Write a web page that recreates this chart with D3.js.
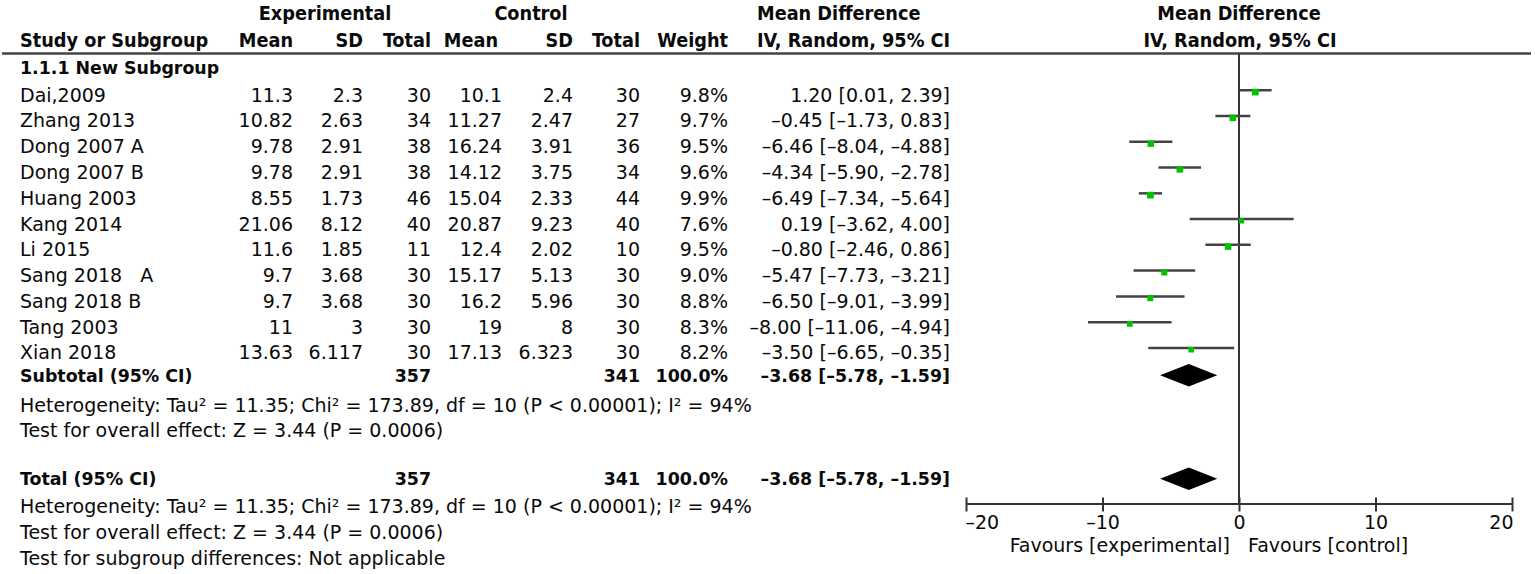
<!DOCTYPE html>
<html>
<head>
<meta charset="utf-8">
<script src="https://cdn.jsdelivr.net/npm/d3@7"></script>
<style>
html,body{margin:0;padding:0;background:#fff;}
svg{display:block;}
text{font-family:"DejaVu Sans",sans-serif;fill:#0a0a0a;}
.reg{font-size:19px;}
.hdr{font-family:"DejaVu Sans Condensed","DejaVu Sans",sans-serif;font-weight:bold;font-size:19.7px;}
.bold{font-weight:bold;font-size:17.4px;}
</style>
</head>
<body>
<svg id="c" width="1535" height="574"></svg>
<script>
// ---------- data ----------
const studies   = ["Dai,2009","Zhang 2013","Dong 2007 A","Dong 2007 B","Huang 2003","Kang 2014","Li 2015","Sang 2018   A","Sang 2018 B","Tang 2003","Xian 2018"];
const expMean   = [11.3,10.82,9.78,9.78,8.55,21.06,11.6,9.7,9.7,11,13.63];
const expSD     = [2.3,2.63,2.91,2.91,1.73,8.12,1.85,3.68,3.68,3,6.117];
const expTotal  = [30,34,38,38,46,40,11,30,30,30,30];
const ctlMean   = [10.1,11.27,16.24,14.12,15.04,20.87,12.4,15.17,16.2,19,17.13];
const ctlSD     = [2.4,2.47,3.91,3.75,2.33,9.23,2.02,5.13,5.96,8,6.323];
const ctlTotal  = [30,27,36,34,44,40,10,30,30,30,30];
const weight    = [9.8,9.7,9.5,9.6,9.9,7.6,9.5,9.0,8.8,8.3,8.2];
const md        = [1.20,-0.45,-6.46,-4.34,-6.49,0.19,-0.80,-5.47,-6.50,-8.00,-3.50];
const ciLo      = [0.01,-1.73,-8.04,-5.90,-7.34,-3.62,-2.46,-7.73,-9.01,-11.06,-6.65];
const ciHi      = [2.39,0.83,-4.88,-2.78,-5.64,4.00,0.86,-3.21,-3.99,-4.94,-0.35];
const pooled    = {md:-3.68, lo:-5.78, hi:-1.59, expN:357, ctlN:341, w:100.0};
const xTicks    = [-20,-10,0,10,20];
const hetText   = "Heterogeneity: Tau² = 11.35; Chi² = 173.89, df = 10 (P < 0.00001); I² = 94%";
const overallText = "Test for overall effect: Z = 3.44 (P = 0.0006)";
const subgroupText = "Test for subgroup differences: Not applicable";

// ---------- layout ----------
const svg = d3.select("#c");
const x = d3.scaleLinear().domain([-20,20]).range([966,1512]);
const row = d3.scaleLinear().domain([0,1]).range([101.7,127.46]); // text baseline per row index
const fmt2 = v => v.toFixed(2).replace("-","–");
const ci = (m,l,h) => `${fmt2(m)} [${fmt2(l)}, ${fmt2(h)}]`;
const col = {name:20, eMean:293, eSD:363, eTot:431, cMean:502, cSD:573, cTot:640, w:728, ci:950};

// headers
const hdr = svg.append("g");
const ht = (t,xx,yy,anchor) => hdr.append("text").attr("class","hdr").attr("x",xx).attr("y",yy).attr("text-anchor",anchor).text(t);
ht("Experimental",325,20,"middle");
ht("Control",531,20,"middle");
ht("Mean Difference",757,20,"start");
ht("Mean Difference",1239,20,"middle");
ht("Study or Subgroup",col.name,47,"start");
ht("Mean",col.eMean,47,"end");
ht("SD",col.eSD,47,"end");
ht("Total",col.eTot,47,"end");
ht("Mean",col.cMean-4,47,"end");
ht("SD",col.cSD,47,"end");
ht("Total",col.cTot,47,"end");
ht("Weight",col.w,47,"end");
ht("IV, Random, 95% CI",757,47,"start");
ht("IV, Random, 95% CI",1240,47,"middle");

svg.append("line").attr("x1",2).attr("x2",1531).attr("y1",53.5).attr("y2",53.5)
  .attr("stroke","#444").attr("stroke-width",2.5);

svg.append("text").attr("class","bold").attr("x",col.name).attr("y",73.5).text("1.1.1 New Subgroup");

// study rows
const g = svg.append("g").attr("class","reg");
studies.forEach((s,i)=>{
  const y = row(i);
  const t = (v,xx,anchor) => g.append("text").attr("x",xx).attr("y",y).attr("text-anchor",anchor).style("white-space","pre").text(v);
  t(s,col.name,"start");
  t(String(expMean[i]),col.eMean,"end");
  t(String(expSD[i]),col.eSD,"end");
  t(String(expTotal[i]),col.eTot,"end");
  t(String(ctlMean[i]),col.cMean,"end");
  t(String(ctlSD[i]),col.cSD,"end");
  t(String(ctlTotal[i]),col.cTot,"end");
  t(weight[i].toFixed(1)+"%",col.w,"end");
  t(ci(md[i],ciLo[i],ciHi[i]),col.ci,"end");
});

// subtotal row
const subY = row(10)+22.4;
const b = (v,xx,yy,anchor) => svg.append("text").attr("class","bold").attr("x",xx).attr("y",yy).attr("text-anchor",anchor).text(v);
b("Subtotal (95% CI)",col.name,subY,"start");
b(String(pooled.expN),col.eTot,subY,"end");
b(String(pooled.ctlN),col.cTot,subY,"end");
b(pooled.w.toFixed(1)+"%",col.w,subY,"end");
b(ci(pooled.md,pooled.lo,pooled.hi),col.ci,subY,"end");
const r = (v,yy) => svg.append("text").attr("class","reg").attr("x",col.name).attr("y",yy).text(v);
r(hetText,411.7);
r(overallText,437);

const totY = 485;
b("Total (95% CI)",col.name,totY,"start");
b(String(pooled.expN),col.eTot,totY,"end");
b(String(pooled.ctlN),col.cTot,totY,"end");
b(pooled.w.toFixed(1)+"%",col.w,totY,"end");
b(ci(pooled.md,pooled.lo,pooled.hi),col.ci,totY,"end");
r(hetText,513);
r(overallText,539);
r(subgroupText,565);

// ---------- plot ----------
const axisY = 503.5;
svg.append("line").attr("x1",x(0)).attr("x2",x(0)).attr("y1",54).attr("y2",axisY)
  .attr("stroke","#333").attr("stroke-width",2);

const p = svg.append("g");
studies.forEach((s,i)=>{
  const yl = row(i)-11.4;
  p.append("line").attr("x1",x(ciLo[i])).attr("x2",x(ciHi[i])).attr("y1",yl).attr("y2",yl)
    .attr("stroke","#444").attr("stroke-width",2.5);
  const side = weight[i]*0.68;
  p.append("rect").attr("x",x(md[i])-side/2).attr("y",yl+1.8-side/2).attr("width",side).attr("height",side)
    .attr("fill","#00c400");
});

const diamond = (cy) => {
  const h = 11.2;
  svg.append("path").attr("d",`M${x(pooled.lo)},${cy} L${x(pooled.md)},${cy-h} L${x(pooled.hi)},${cy} L${x(pooled.md)},${cy+h} Z`)
    .attr("fill","#000");
};
diamond(375.3);
diamond(478.7);

// axis
const axis = d3.axisBottom(x).tickValues(xTicks).tickSizeInner(8).tickSizeOuter(0)
  .tickFormat(d => String(d).replace("-","–"));
const ag = svg.append("g").attr("transform",`translate(0,${axisY})`).call(axis);
ag.select(".domain").attr("stroke","#333").attr("stroke-width",2.2);
ag.selectAll(".tick line").attr("stroke","#333").attr("stroke-width",2).attr("y1",-6);
ag.selectAll(".tick text").attr("class","reg").attr("fill","#0a0a0a").attr("y",12).attr("dy","0.71em")
  .style("font-size","19px").style("font-family","DejaVu Sans")
  .attr("text-anchor",(d,i)=> i===0 ? "start" : (i===xTicks.length-1 ? "end" : "middle"))
  .attr("dx",(d,i)=> i===0 ? -1 : (i===xTicks.length-1 ? 1 : 0));

svg.append("text").attr("class","reg").attr("x",x(0)-9).attr("y",551.5).attr("text-anchor","end").text("Favours [experimental]");
svg.append("text").attr("class","reg").attr("x",x(0)+9).attr("y",551.5).attr("text-anchor","start").text("Favours [control]");
</script>
</body>
</html>
